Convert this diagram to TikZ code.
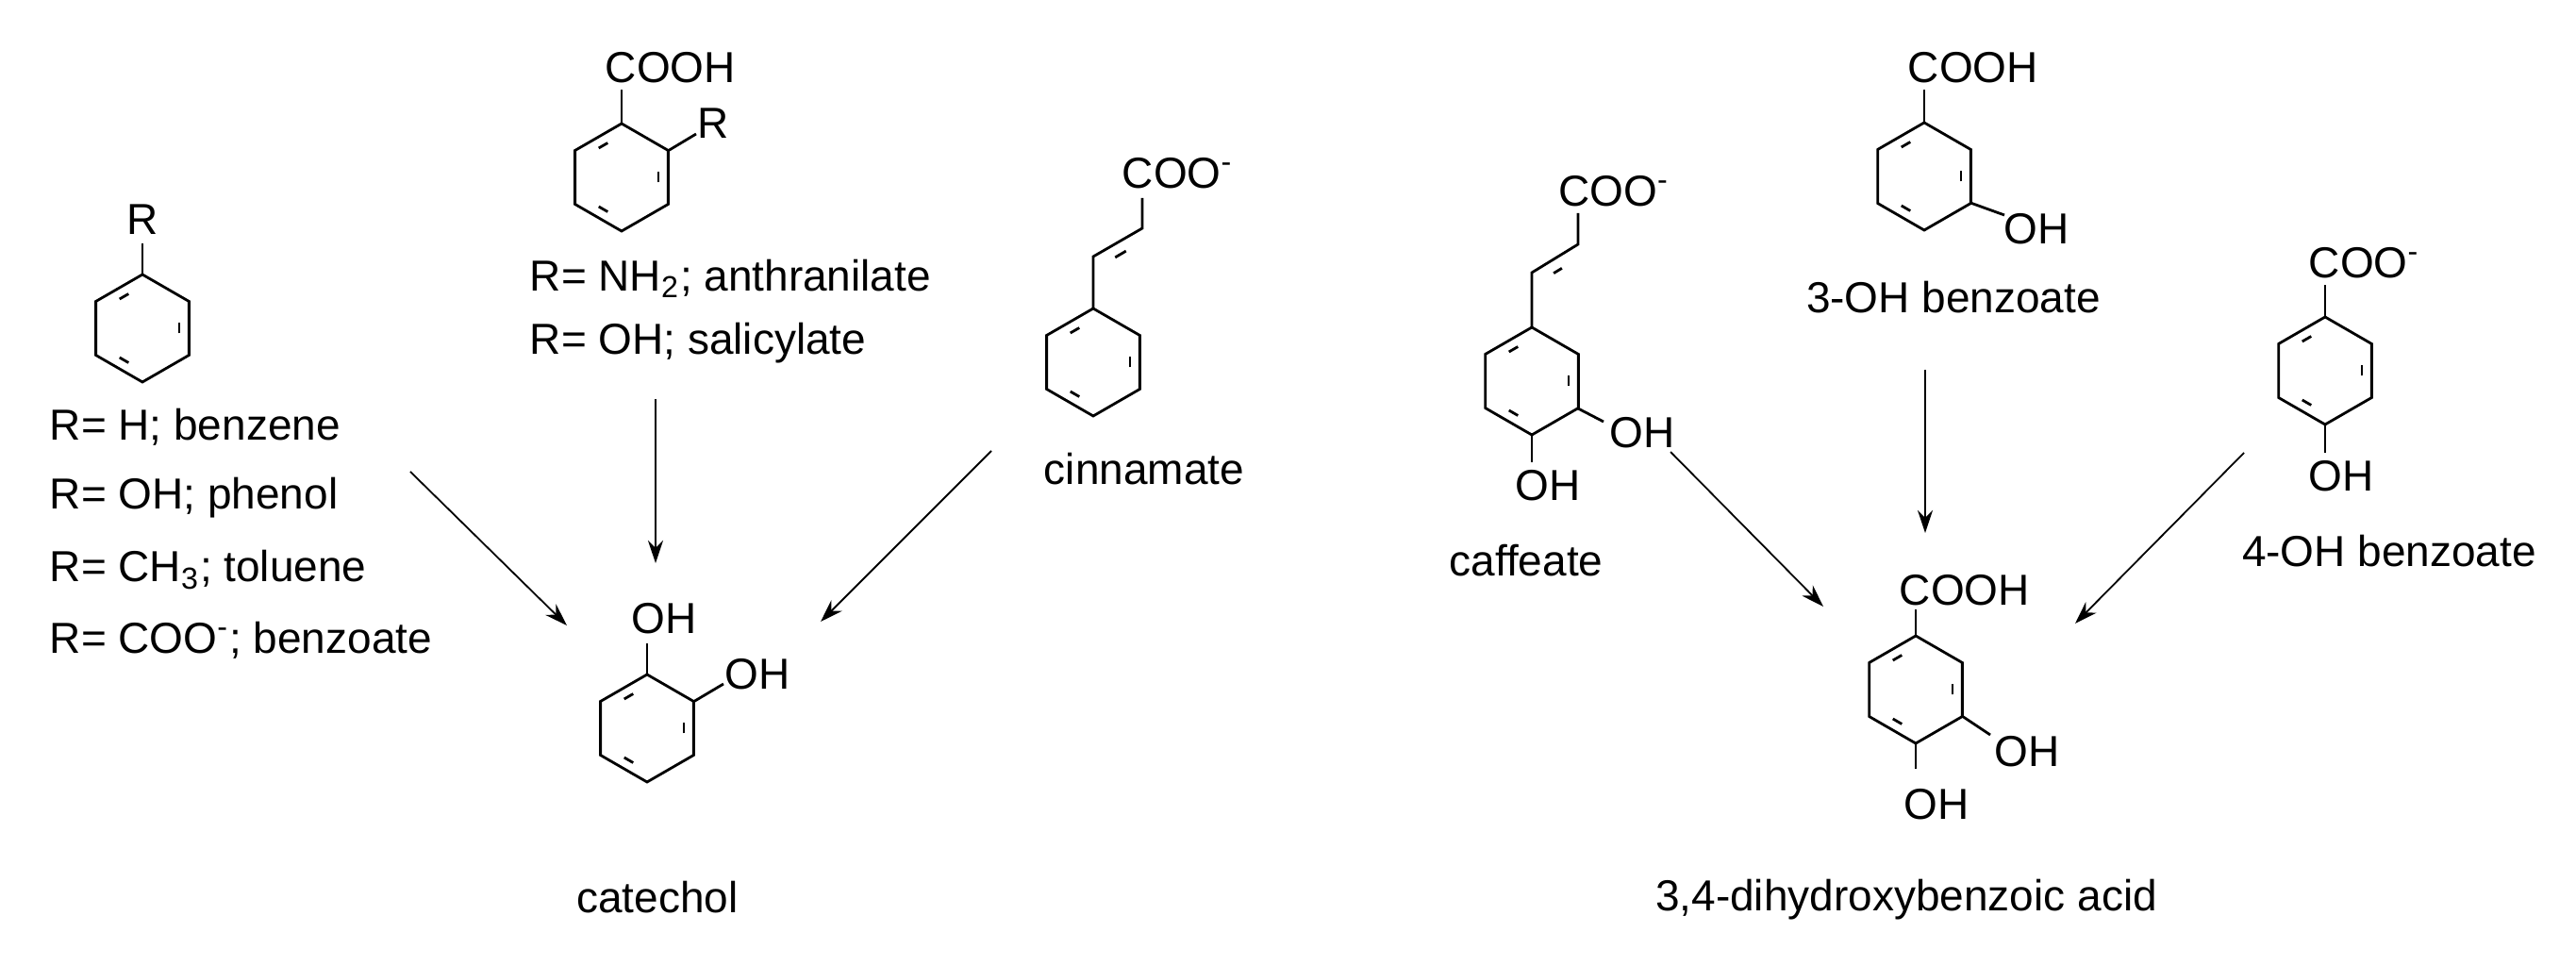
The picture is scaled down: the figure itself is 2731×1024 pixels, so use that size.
\documentclass[tikz,border=0pt]{standalone}
\usepackage{fontspec}
\setmainfont{Liberation Sans}
\usetikzlibrary{calc,arrows.meta}
\newcommand\benz[2]{\begin{scope}[shift={(#1,#2)}]
\draw[bond] (90:57)--(150:57)--(210:57)--(270:57)--(330:57)--(30:57)--cycle;
\draw[bond,shorten <=7,shorten >=7] (90:45)--(150:45);
\draw[bond,shorten <=7,shorten >=7] (330:45)--(30:45);
\draw[bond,shorten <=7,shorten >=7] (210:45)--(270:45);
\end{scope}}
\begin{document}
\begin{tikzpicture}[x=0.25pt,y=-0.25pt,
  bond/.style={line width=0.7pt,line join=miter},
  rx/.style={-{Stealth[length=6pt,width=4pt]},line width=0.45pt},
  lbl/.style={inner sep=0pt,font=\fontsize{11.5}{13}\selectfont}]
\useasboundingbox (0,0) rectangle (2731,1024);
% benzene family
\benz{151}{348}
\draw[bond] (151,291)--(151,258);
\node[lbl] (r1) at (151,233) {R};
\node[lbl,anchor=west] (l1) at (52,453) {R= H; benzene};
\node[lbl,anchor=west] (l2) at (52,528) {R= OH; phenol};
\node[lbl,anchor=west] (l3) at (52,604) {R= CH\textsubscript{3}; toluene};
\node[lbl,anchor=west] (l4) at (52,679) {R= COO\textsuperscript{-}; benzoate};
% anthranilate/salicylate
\benz{659}{188}
\draw[bond] (659,131)--(659,95);
\node[lbl,anchor=west] (c2) at (641,72) {COOH};
\draw[bond] (708,160)--(738,142);
\node[lbl] (r2) at (756,131) {R};
\node[lbl,anchor=west] (l5) at (561,295) {R= NH\textsubscript{2}; anthranilate};
\node[lbl,anchor=west] (l6) at (561,364) {R= OH; salicylate};
% cinnamate
\benz{1159}{384}
\draw[bond] (1159,327)--(1159,272)--(1211,242)--(1211,210);
\draw[bond,shorten <=5,shorten >=5] (1165,283)--(1211,256);
\node[lbl,anchor=west] (c3) at (1189,184) {COO\textsuperscript{-}};
\node[lbl] (cin) at (1213,497) {cinnamate};
% catechol
\benz{686}{772}
\draw[bond] (686,715)--(686,682);
\node[lbl] (o1) at (704,656) {OH};
\draw[bond] (735,744)--(767,725);
\node[lbl] (o2) at (803,715) {OH};
\node[lbl] (cat) at (697,951) {catechol};
% caffeate
\benz{1624}{404}
\draw[bond] (1624,347)--(1624,289)--(1673,259)--(1673,226);
\draw[bond,shorten <=5,shorten >=5] (1630,300)--(1673,274);
\node[lbl] (c4) at (1711,203) {COO\textsuperscript{-}};
\draw[bond] (1673,433)--(1700,447);
\node[lbl] (o3) at (1741,459) {OH};
\draw[bond] (1624,461)--(1624,490);
\node[lbl] (o4) at (1641,515) {OH};
\node[lbl] (caf) at (1618,594) {caffeate};
% 3-OH benzoate
\benz{2040}{187}
\draw[bond] (2040,130)--(2040,95);
\node[lbl,anchor=west] (c5) at (2022,72) {COOH};
\draw[bond] (2089,215)--(2125,228);
\node[lbl] (o5) at (2159,243) {OH};
\node[lbl] (hb3) at (2071,315) {3-OH benzoate};
% 4-OH benzoate
\benz{2465}{393}
\draw[bond] (2465,336)--(2465,302);
\node[lbl,anchor=west] (c6) at (2447,279) {COO\textsuperscript{-}};
\draw[bond] (2465,450)--(2465,480);
\node[lbl] (o6) at (2482,505) {OH};
\node[lbl] (hb4) at (2533,584) {4-OH benzoate};
% DHBA
\benz{2031}{731}
\draw[bond] (2031,674)--(2031,646);
\node[lbl,anchor=west] (c7) at (2013,626) {COOH};
\draw[bond] (2080,759)--(2110,779);
\node[lbl] (o7) at (2149,797) {OH};
\draw[bond] (2031,788)--(2031,815);
\node[lbl] (o8) at (2053,853) {OH};
\node[lbl] (dh) at (2021,954) {3,4-dihydroxybenzoic acid};
% arrows
\coordinate (a1s) at (435,500); \coordinate (a1e) at (601,663);
\coordinate (a2s) at (695,423); \coordinate (a2e) at (695,597);
\coordinate (a3s) at (1051,478); \coordinate (a3e) at (870,659);
\coordinate (a4s) at (1771,479); \coordinate (a4e) at (1933,643);
\coordinate (a5s) at (2041,392); \coordinate (a5e) at (2041,565);
\coordinate (a6s) at (2379,480); \coordinate (a6e) at (2200,661);
\foreach \i in {1,...,6} \draw[rx] (a\i s)--(a\i e);
\end{tikzpicture}
\end{document}
